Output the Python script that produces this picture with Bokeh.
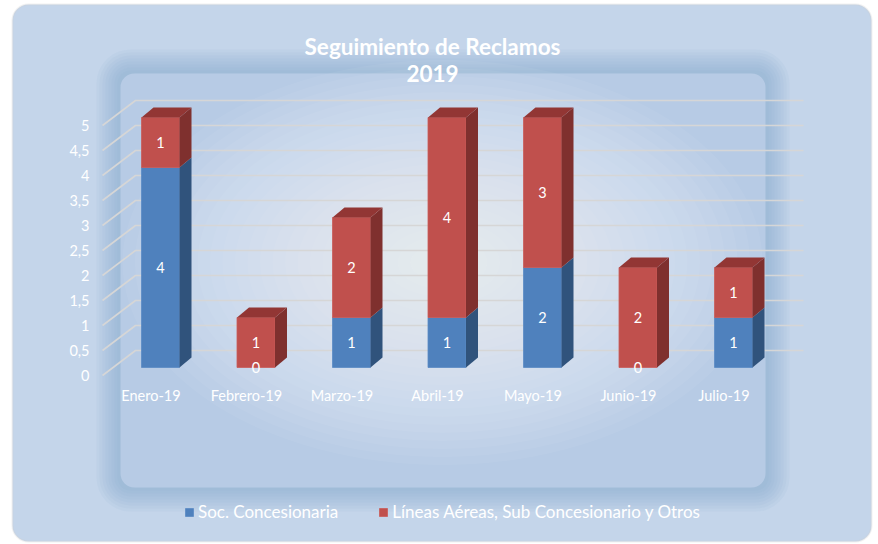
from bokeh.plotting import figure
from bokeh.models import Range1d, BoxAnnotation, Legend, LegendItem, ColumnDataSource
from bokeh.core.properties import value
from bokeh.embed import file_html
from bokeh.resources import INLINE

# ---------------- data ----------------
months = ["Enero-19", "Febrero-19", "Marzo-19", "Abril-19", "Mayo-19", "Junio-19", "Julio-19"]
soc_concesionaria = [4, 0, 1, 1, 2, 0, 1]
lineas_aereas = [1, 1, 2, 4, 3, 2, 1]
series_names = ["Soc. Concesionaria", "Líneas Aéreas, Sub Concesionario y Otros"]
y_ticks = [0, 0.5, 1, 1.5, 2, 2.5, 3, 3.5, 4, 4.5, 5]
y_tick_labels = ["0", "0,5", "1", "1,5", "2", "2,5", "3", "3,5", "4", "4,5", "5"]
title_lines = ["Seguimiento de Reclamos", "2019"]

# ---------------- layout helpers (canvas pixels -> data) ----------------
W, H = 878, 544
STEP = 95.5     # px per category
UNIT = 50.0     # px per value unit
X0, Y0 = 160.0, 367.0   # px of category 0 centre / value 0


def X(px):
    return (px - X0) / STEP


def Y(py):
    return (Y0 - py) / UNIT


FONT = "Lato"
BLUE, BLUE_SIDE, BLUE_TOP = "#4f81bd", "#30537c", "#3d6796"
RED, RED_SIDE, RED_TOP = "#c0504d", "#7f302e", "#923634"

p = figure(width=W, height=H, output_backend="svg", toolbar_location=None,
           x_range=Range1d(X(0), X(W)), y_range=Range1d(Y(H), Y(0)),
           x_axis_type=None, y_axis_type=None, min_border=0,
           background_fill_color="white", border_fill_color="white",
           outline_line_color=None)
p.xgrid.visible = False
p.ygrid.visible = False

# ---------------- background ----------------
p.add_layout(BoxAnnotation(left=X(12), right=X(871), top=Y(4), bottom=Y(541),
                           fill_color="#c4d5ea", fill_alpha=1, line_color="#d2d2d2",
                           line_width=2, border_radius=16, level="underlay"))
L, R, T, B = 120, 765, 73, 487
for e in range(24, 0, -3):
    p.add_layout(BoxAnnotation(left=X(L - e), right=X(R + e), top=Y(T - e), bottom=Y(B + e),
                               fill_color="#7fa2d2", fill_alpha=0.08, line_color=None,
                               border_radius=10 + e, level="underlay"))
p.add_layout(BoxAnnotation(left=X(L), right=X(R), top=Y(T), bottom=Y(B),
                           fill_color="#b7cbe5", fill_alpha=1, line_color=None,
                           border_radius=14, level="underlay"))
n_glow = 24
glow_w = [640 - k * 25 for k in range(n_glow)]
glow_h = [405 - k * 16 for k in range(n_glow)]
p.ellipse(x=[X(442)] * n_glow, y=[Y(262)] * n_glow,
          width=[w / STEP for w in glow_w], height=[h / UNIT for h in glow_h],
          fill_color="white", fill_alpha=0.05, line_color=None)

# ---------------- 3D gridlines ----------------
gxs, gys = [], []
for v in y_ticks:
    gxs.append([X(102), X(135), X(803)])
    gys.append([v - 0.16, v + 0.34, v + 0.34])
p.multi_line(xs=gxs, ys=gys, line_color="#d6d6d6", line_width=1.6)

p.text(x=[X(89)] * len(y_ticks), y=[v - 0.16 for v in y_ticks], text=y_tick_labels,
       text_font=value(FONT), text_font_size="14.5px", text_color="white",
       text_align="right", text_baseline="middle")

# ---------------- bars ----------------
w = 19 / STEP
dx, dy = 12 / STEP, 10 / UNIT


def segments(bottoms, heights):
    fr = dict(l=[], r=[], b=[], t=[])
    side = dict(xs=[], ys=[])
    for i, (b, h) in enumerate(zip(bottoms, heights)):
        if h <= 0:
            continue
        t = b + h
        fr["l"].append(i - w); fr["r"].append(i + w); fr["b"].append(b); fr["t"].append(t)
        side["xs"].append([i + w, i + w + dx, i + w + dx, i + w])
        side["ys"].append([b, b + dy, t + dy, t])
    return fr, side


idx = list(range(len(months)))
blue_bottom = [0] * len(months)
red_bottom = soc_concesionaria
totals = [a + b for a, b in zip(soc_concesionaria, lineas_aereas)]

fb, sb = segments(blue_bottom, soc_concesionaria)
fr_, sr = segments(red_bottom, lineas_aereas)

r_blue = p.quad(left="l", right="r", bottom="b", top="t", source=ColumnDataSource(fb),
                fill_color=BLUE, line_color="#5a8ac4", line_width=0.8)
p.patches(xs="xs", ys="ys", source=ColumnDataSource(sb), fill_color=BLUE_SIDE, line_color=None)
r_red = p.quad(left="l", right="r", bottom="b", top="t", source=ColumnDataSource(fr_),
               fill_color=RED, line_color="#c95c59", line_width=0.8)
p.patches(xs="xs", ys="ys", source=ColumnDataSource(sr), fill_color=RED_SIDE, line_color=None)

top_xs, top_ys, top_c = [], [], []
for i, tot in enumerate(totals):
    top_xs.append([i - w, i - w + dx, i + w + dx, i + w])
    top_ys.append([tot, tot + dy, tot + dy, tot])
    top_c.append(RED_TOP if lineas_aereas[i] > 0 else BLUE_TOP)
p.patches(xs=top_xs, ys=top_ys, fill_color=top_c, line_color=None)

# data labels
lx, ly, lt = [], [], []
for i in idx:
    for b, h in ((0, soc_concesionaria[i]), (soc_concesionaria[i], lineas_aereas[i])):
        lx.append(i)
        ly.append(b + h / 2 if h > 0 else b)
        lt.append(str(h))
p.text(x=lx, y=ly, text=lt, text_font=value(FONT), text_font_size="14.5px",
       text_color="white", text_align="center", text_baseline="middle")

# category labels
p.text(x=[i - 0.1 for i in idx], y=[Y(395)] * len(months), text=months,
       text_font=value(FONT), text_font_size="14.5px", text_color="white",
       text_align="center", text_baseline="middle")

# title
p.text(x=[X(432)] * 2, y=[Y(46), Y(73)], text=title_lines,
       text_font=value(FONT), text_font_size="22.5px", text_font_style="bold",
       text_color="white", text_align="center", text_baseline="middle")

# legend
legend = Legend(items=[LegendItem(label=series_names[0], renderers=[r_blue]),
                       LegendItem(label=series_names[1], renderers=[r_red])],
                orientation="horizontal", location=(184, 22),
                glyph_width=10, glyph_height=10, label_standoff=4, spacing=40,
                padding=0, margin=0, background_fill_alpha=0, border_line_alpha=0,
                label_text_color="white", label_text_font=FONT,
                label_text_font_size="17px", label_height=18)
p.add_layout(legend)

open("out.html", "w").write(file_html(p, INLINE))
